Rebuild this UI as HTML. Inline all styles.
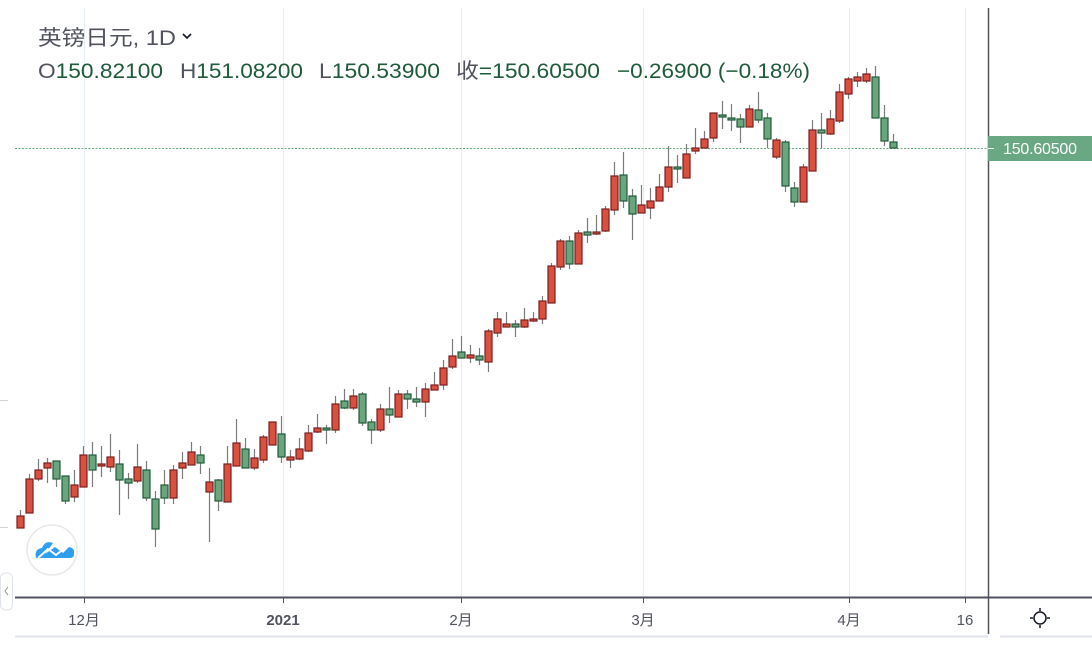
<!DOCTYPE html>
<html><head><meta charset="utf-8"><style>
html,body{margin:0;padding:0;background:#fff;width:1092px;height:649px;overflow:hidden}
svg{display:block}
text{font-family:"Liberation Sans","Noto Sans CJK SC",sans-serif}
</style></head><body>
<svg id="s" width="1092" height="649" viewBox="0 0 1092 649" xmlns="http://www.w3.org/2000/svg">
<g stroke="#e3eef6" stroke-width="1">
<line x1="84.5" y1="8" x2="84.5" y2="597"/><line x1="283.5" y1="8" x2="283.5" y2="597"/>
<line x1="461.5" y1="8" x2="461.5" y2="597"/><line x1="643.5" y1="8" x2="643.5" y2="597"/>
<line x1="849.5" y1="8" x2="849.5" y2="597"/><line x1="965.5" y1="8" x2="965.5" y2="597"/>
</g>
<line x1="15" y1="148.5" x2="988" y2="148.5" stroke="#6aa884" stroke-width="1" stroke-dasharray="2,1.5"/>
<g id="c"></g>
<line x1="15" y1="597.5" x2="1092" y2="597.5" stroke="#50535e" stroke-width="2"/>
<line x1="988.5" y1="8" x2="988.5" y2="634" stroke="#50535e" stroke-width="1.5"/>
<line x1="15" y1="636.5" x2="988" y2="636.5" stroke="#e0e3eb" stroke-width="2"/>
<line x1="1000" y1="636.5" x2="1092" y2="636.5" stroke="#e0e3eb" stroke-width="2"/>
<g stroke="#50535e"><line x1="84.5" y1="597" x2="84.5" y2="603"/><line x1="283.5" y1="597" x2="283.5" y2="603"/><line x1="461.5" y1="597" x2="461.5" y2="603"/><line x1="643.5" y1="597" x2="643.5" y2="603"/><line x1="849.5" y1="597" x2="849.5" y2="603"/><line x1="965.5" y1="597" x2="965.5" y2="603"/></g>
<g font-size="15" fill="#50535e" text-anchor="middle">
<text x="84" y="625">12月</text><text x="283" y="625" font-weight="bold">2021</text>
<text x="461" y="625">2月</text><text x="643" y="625">3月</text><text x="849" y="625">4月</text><text x="965" y="625">16</text>
</g>
<g stroke="#131722" stroke-width="1.5" fill="none">
<circle cx="1040" cy="618" r="6"/>
<line x1="1040" y1="608" x2="1040" y2="611"/><line x1="1040" y1="625" x2="1040" y2="628"/>
<line x1="1030" y1="618" x2="1033" y2="618"/><line x1="1047" y1="618" x2="1050" y2="618"/>
</g>
<rect x="988" y="136" width="104" height="25" fill="#6aa884"/>
<line x1="988" y1="148.5" x2="994" y2="148.5" stroke="#fff"/>
<text x="1003" y="154" font-size="16" fill="#fff" textLength="74">150.60500</text>
<g font-size="21">
<text x="38" y="45" fill="#50535e" textLength="138" lengthAdjust="spacingAndGlyphs">英镑日元, 1D</text>
<path d="M183 34 l4 4 l4 -4" stroke="#131722" stroke-width="1.6" fill="none"/>
<text x="38" y="78" fill="#50535e" textLength="125" lengthAdjust="spacingAndGlyphs">O<tspan fill="#1f5b3a">150.82100</tspan></text>
<text x="180" y="78" fill="#50535e" textLength="123" lengthAdjust="spacingAndGlyphs">H<tspan fill="#1f5b3a">151.08200</tspan></text>
<text x="319" y="78" fill="#50535e" textLength="121" lengthAdjust="spacingAndGlyphs">L<tspan fill="#1f5b3a">150.53900</tspan></text>
<text x="456" y="78" fill="#50535e" textLength="144" lengthAdjust="spacingAndGlyphs">收<tspan fill="#1f5b3a">=150.60500</tspan></text>
<text x="617" y="78" fill="#1f5b3a" textLength="193" lengthAdjust="spacingAndGlyphs">−0.26900 (−0.18%)</text>
</g>
<circle cx="52" cy="550" r="25" fill="#fff" stroke="#e8e8e8" stroke-width="1.5"/>
<path d="M36 558 q-2 -9 6 -10 q3 -8 11 -5 l-8 11 l10 -7 l8 6 l6 -6 q6 1 5 7 q0 4 -4 4 z" fill="#2e9ef0"/>
<path d="M38 558 l10 -9 l8 6 l10 -8" stroke="#fff" stroke-width="2" fill="none"/>
<rect x="0.5" y="573" width="12" height="37" rx="5" fill="#fff" stroke="#e0e3eb"/>
<path d="M8 587 l-3 4 l3 4" stroke="#9598a1" fill="none"/>
<line x1="0" y1="400.5" x2="8" y2="400.5" stroke="#d0d3db"/><line x1="0" y1="527.5" x2="8" y2="527.5" stroke="#d0d3db"/>
</svg>
<script>
var d=[
[20,516,528,510,528,'r'],[29,479,513,474,513,'r'],[38,470,479,459,481,'r'],[47,463,468,458,483,'r'],[56,461,479,461,487,'g'],[65,476,501,476,504,'g'],[74,485,497,470,502,'r'],[83,455,487,446,487,'r'],[92,455,470,442,487,'g'],[101,464,466,446,477,'r'],[110,457,467,434,472,'r'],[119,464,480,450,515,'g'],[128,479,483,473,499,'g'],[137,467,481,444,483,'r'],[146,470,498,461,501,'g'],[155,499,529,491,547,'g'],[164,485,498,470,504,'g'],[173,470,498,465,504,'r'],[182,463,468,452,479,'r'],[191,452,465,442,465,'r'],[200,455,463,446,474,'g'],[209,482,492,468,542,'r'],[218,480,501,479,511,'g'],[227,464,502,446,502,'r'],[236,443,466,419,466,'r'],[245,449,468,438,468,'g'],[254,458,468,449,470,'r'],[263,437,460,435,463,'r'],[272,422,445,422,445,'r'],[281,434,457,416,463,'g'],[290,457,460,450,468,'r'],[299,449,459,438,460,'r'],[308,433,451,425,452,'r'],[317,428,432,414,433,'r'],[326,428,430,425,444,'g'],[335,404,430,396,433,'r'],[344,401,408,389,409,'g'],[353,396,408,389,410,'r'],[362,394,423,392,426,'g'],[371,422,430,419,444,'g'],[380,409,430,404,432,'r'],[389,409,415,387,423,'g'],[398,394,417,390,417,'r'],[407,394,399,390,409,'g'],[416,399,402,387,407,'g'],[425,389,402,383,417,'r'],[434,385,390,372,390,'r'],[443,368,385,360,390,'r'],[452,356,367,339,369,'r'],[461,352,358,336,358,'g'],[470,355,358,345,363,'r'],[479,356,360,348,365,'g'],[488,331,362,329,372,'r'],[497,319,333,312,337,'r'],[506,324,327,312,327,'r'],[515,324,327,320,337,'g'],[524,320,327,308,328,'r'],[533,319,321,312,322,'r'],[542,301,319,296,324,'r'],[551,266,303,263,303,'r'],[560,241,267,239,270,'r'],[569,241,264,236,269,'g'],[578,233,264,230,264,'r'],[587,232,235,218,243,'g'],[596,232,234,215,235,'r'],[605,209,231,206,232,'r'],[614,176,210,162,215,'r'],[623,175,201,152,208,'g'],[632,196,214,189,240,'g'],[641,205,213,185,213,'r'],[650,201,208,188,219,'r'],[659,187,201,174,201,'r'],[668,167,187,146,192,'r'],[677,167,169,155,183,'g'],[686,154,178,144,178,'r'],[695,148,151,128,154,'r'],[704,139,148,131,148,'r'],[713,113,138,113,142,'r'],[722,115,117,101,129,'g'],[731,118,120,104,131,'g'],[740,119,127,114,143,'g'],[749,109,127,105,127,'r'],[758,110,120,92,123,'g'],[767,118,139,113,148,'g'],[776,140,157,138,159,'r'],[785,142,186,140,192,'g'],[794,188,202,182,207,'g'],[803,167,202,164,202,'r'],[812,130,171,120,171,'r'],[821,130,133,113,148,'g'],[830,119,134,110,135,'r'],[839,92,121,84,123,'r'],[848,79,94,77,99,'r'],[857,77,81,72,87,'r'],[866,74,81,68,83,'r'],[875,77,118,66,118,'g'],[884,118,141,105,146,'g'],[893,142,148,134,148,'g']];
var h='';
d.forEach(function(c){var x=c[0],f=c[5]=='r'?'#d9503f':'#6aa57e',s=c[5]=='r'?'#7a1e1e':'#1f5b3a';
h+='<line x1="'+(x+0.5)+'" y1="'+c[3]+'" x2="'+(x+0.5)+'" y2="'+c[4]+'" stroke="#7b7b7b" stroke-width="1.2"/>';
var ht=Math.max(c[2]-c[1],2);
h+='<rect x="'+(x-3)+'" y="'+c[1]+'" width="7" height="'+ht+'" fill="'+f+'" stroke="'+s+'" stroke-width="1.2"/>';});
document.getElementById('c').innerHTML=h;
</script>
</body></html>
